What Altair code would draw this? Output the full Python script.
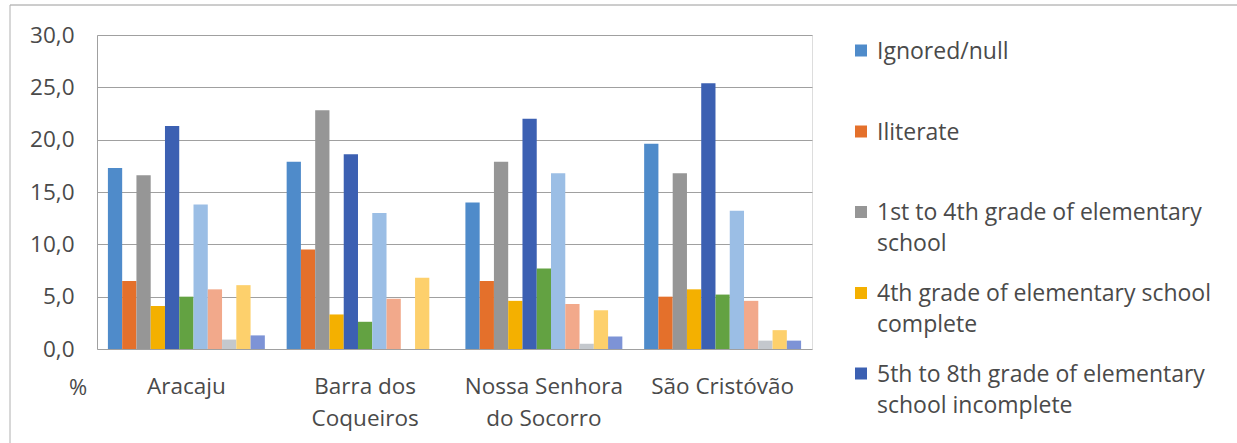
import altair as alt
import pandas as pd

# Municipalities (x categories) and schooling levels (bars inside each group)
cities = ["Aracaju", "Barra dos Coqueiros", "Nossa Senhora do Socorro", "São Cristóvão"]
city_lines = [["Aracaju"], ["Barra dos", "Coqueiros"], ["Nossa Senhora", "do Socorro"], ["São Cristóvão"]]

levels = [
    "Ignored/null",
    "Iliterate",
    "1st to 4th grade of elementary school",
    "4th grade of elementary school complete",
    "5th to 8th grade of elementary school incomplete",
    "Elementary school complete",
    "High school incomplete",
    "High school complete",
    "Higher education incomplete",
    "Higher education complete",
    "Not applicable",
]

# Percentage per level, one value per municipality (same order as `cities`)
ignored = [17.3, 17.9, 14.0, 19.6]
iliterate = [6.5, 9.5, 6.5, 5.0]
grade_1_4 = [16.6, 22.8, 17.9, 16.8]
grade_4 = [4.1, 3.3, 4.6, 5.7]
grade_5_8 = [21.3, 18.6, 22.0, 25.4]
elementary = [5.0, 2.6, 7.7, 5.2]
high_inc = [13.8, 13.0, 16.8, 13.2]
high = [5.7, 4.8, 4.3, 4.6]
higher_inc = [0.9, 0.0, 0.5, 0.8]
higher = [6.1, 6.8, 3.7, 1.8]
not_applicable = [1.3, 0.0, 1.2, 0.8]

series = [ignored, iliterate, grade_1_4, grade_4, grade_5_8, elementary,
          high_inc, high, higher_inc, higher, not_applicable]

colors = ["#4F8BCA", "#E4702B", "#969696", "#F4B000", "#3C60B2", "#63A242",
          "#9BBEE5", "#F2A98B", "#C4C8CD", "#FDD06C", "#7D93D6"]

# Legend shows only the first five levels, wrapped like the original
legend_lines = [
    ["Ignored/null"],
    ["Iliterate"],
    ["1st to 4th grade of elementary", "school"],
    ["4th grade of elementary school", "complete"],
    ["5th to 8th grade of elementary", "school incomplete"],
]

rows = []
for level, vals in zip(levels, series):
    for city, v in zip(cities, vals):
        rows.append({"city": city, "level": level, "value": v})
df = pd.DataFrame(rows)

FONT = "Open Sans"
TXT = "#4A4A4A"
W, H = 715, 314
PAD_L, PAD_T = 97, 35

# multi-line category labels
expr = "datum.label"
for city, lines in zip(cities, city_lines):
    if len(lines) > 1:
        arr = "[" + ", ".join("'" + s + "'" for s in lines) + "]"
        expr = f"datum.label == '{city}' ? {arr} : ({expr})"

bars = alt.Chart(df).mark_bar().encode(
    x=alt.X(
        "city:N", sort=cities, title=None,
        scale=alt.Scale(paddingInner=0.122, paddingOuter=0.061),
        axis=alt.Axis(labelAngle=0, labelExpr=expr, labelFontSize=22.5, labelColor=TXT,
                      labelFont=FONT, labelBaseline="top", labelPadding=26,
                      labelLineHeight=32, ticks=False, domain=False, grid=False),
    ),
    xOffset=alt.XOffset("level:N", sort=levels,
                        scale=alt.Scale(domain=levels, paddingInner=0, paddingOuter=0)),
    y=alt.Y(
        "value:Q", title=None,
        scale=alt.Scale(domain=[0, 30], nice=False),
        axis=alt.Axis(values=[0, 5, 10, 15, 20, 25, 30],
                      labelExpr="replace(format(datum.value, '.1f'), '.', ',')",
                      labelFontSize=22.5, labelColor=TXT, labelFont=FONT, labelPadding=23,
                      ticks=False, domain=True, domainColor="#A0A0A0",
                      gridColor="#A0A0A0", gridWidth=1),
    ),
    color=alt.Color("level:N", scale=alt.Scale(domain=levels, range=colors), legend=None),
)

one = pd.DataFrame({"k": [0]})

# outer frame of the chart area
frame_top = alt.Chart(one).mark_rule(color="#9A9A9A", strokeWidth=1).encode(
    x=alt.value(-87), x2=alt.value(1237 - PAD_L), y=alt.value(-30))
frame_left = alt.Chart(one).mark_rule(color="#B0B0B0", strokeWidth=1).encode(
    x=alt.value(-87), y=alt.value(-30), y2=alt.value(443 - PAD_T))

unit = alt.Chart(one).mark_text(font=FONT, fontSize=22, color=TXT, align="center",
                                baseline="alphabetic", text="%").encode(
    x=alt.value(-19), y=alt.value(360))

layers = [bars, frame_top, frame_left, unit]

legend_centers = [15.5, 96.5, 177, 258, 338.5]
for i, (lines, cy) in enumerate(zip(legend_lines, legend_centers)):
    sq = alt.Chart(one).mark_rect(color=colors[i]).encode(
        x=alt.value(758), x2=alt.value(770), y=alt.value(cy - 6), y2=alt.value(cy + 6))
    tx = alt.Chart(one).mark_text(font=FONT, fontSize=23, color=TXT, align="left",
                                  baseline="alphabetic", lineBreak="\n",
                                  lineHeight=31, text="\n".join(lines)).encode(
        x=alt.value(780), y=alt.value(cy + 8))
    layers += [sq, tx]

chart = alt.layer(*layers).properties(
    width=W, height=H,
    padding={"left": PAD_L, "top": PAD_T, "right": 1237 - PAD_L - W, "bottom": 443 - PAD_T - H},
    autosize=alt.AutoSizeParams(type="none"),
    background="white",
).configure_view(stroke=None).configure(font=FONT)

chart.save("out.html", embed_options={"renderer": "svg", "actions": False})
